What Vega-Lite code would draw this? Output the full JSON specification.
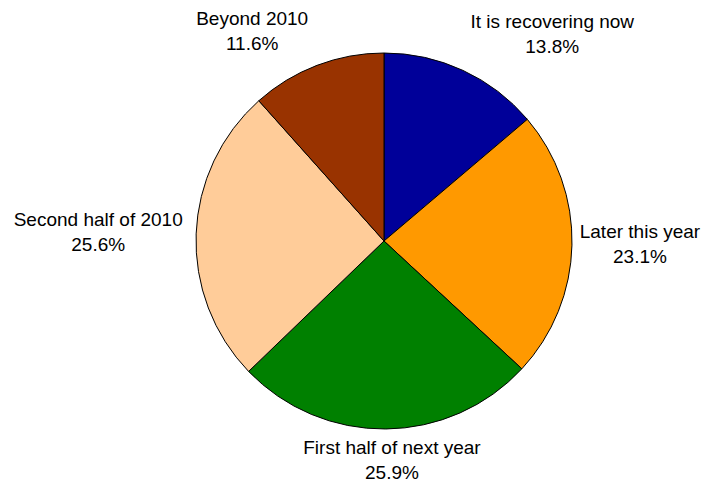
{
  "$schema": "https://vega.github.io/schema/vega-lite/v6.json",
  "autosize": {"type": "none"},
  "width": 640,
  "height": 482,
  "padding": {"left": 64, "right": 0, "top": 0, "bottom": 0},
  "background": "white",
  "config": {"view": {"stroke": null}, "text": {"font": "Liberation Sans", "fontSize": 19, "lineHeight": 25, "lineBreak": "\n", "color": "black", "align": "center", "baseline": "middle"}},
  "data": {"values": [
    {"order": 1, "category": "It is recovering now", "value": 13.8},
    {"order": 2, "category": "Later this year", "value": 23.1},
    {"order": 3, "category": "First half of next year", "value": 25.9},
    {"order": 4, "category": "Second half of 2010", "value": 25.6},
    {"order": 5, "category": "Beyond 2010", "value": 11.6}
  ]},
  "transform": [
    {"stack": "value", "groupby": [], "sort": [{"field": "order"}], "as": ["v0", "v1"]},
    {"calculate": "(datum.v0 + datum.v1) / 2", "as": "mid"},
    {"calculate": "datum.category + '\\n' + format(datum.value, '.1f') + '%'", "as": "label"}
  ],
  "layer": [
    {
      "mark": {"type": "arc", "outerRadius": 188, "stroke": "black", "strokeWidth": 1},
      "encoding": {
        "theta": {"field": "v0", "type": "quantitative", "scale": {"domain": [0, 100]}},
        "theta2": {"field": "v1"},
        "color": {"field": "category", "type": "nominal", "legend": null,
          "scale": {"domain": ["It is recovering now", "Later this year", "First half of next year", "Second half of 2010", "Beyond 2010"],
                    "range": ["#000099", "#FF9900", "#008000", "#FFCC99", "#993300"]}}
      }
    },
    {
      "transform": [{"filter": "datum.order == 1"}],
      "mark": {"type": "text", "radius": 241, "dx": 67},
      "encoding": {"theta": {"field": "mid", "type": "quantitative"}, "text": {"field": "label"}}
    },
    {
      "transform": [{"filter": "datum.order == 2"}],
      "mark": {"type": "text", "radius": 256, "dy": -15},
      "encoding": {"theta": {"field": "mid", "type": "quantitative"}, "text": {"field": "label"}}
    },
    {
      "transform": [{"filter": "datum.order == 3"}],
      "mark": {"type": "text", "radius": 207, "dx": 6},
      "encoding": {"theta": {"field": "mid", "type": "quantitative"}, "text": {"field": "label"}}
    },
    {
      "transform": [{"filter": "datum.order == 4"}],
      "mark": {"type": "text", "radius": 286, "dy": -10},
      "encoding": {"theta": {"field": "mid", "type": "quantitative"}, "text": {"field": "label"}}
    },
    {
      "transform": [{"filter": "datum.order == 5"}],
      "mark": {"type": "text", "radius": 238, "dx": -47},
      "encoding": {"theta": {"field": "mid", "type": "quantitative"}, "text": {"field": "label"}}
    }
  ]
}
